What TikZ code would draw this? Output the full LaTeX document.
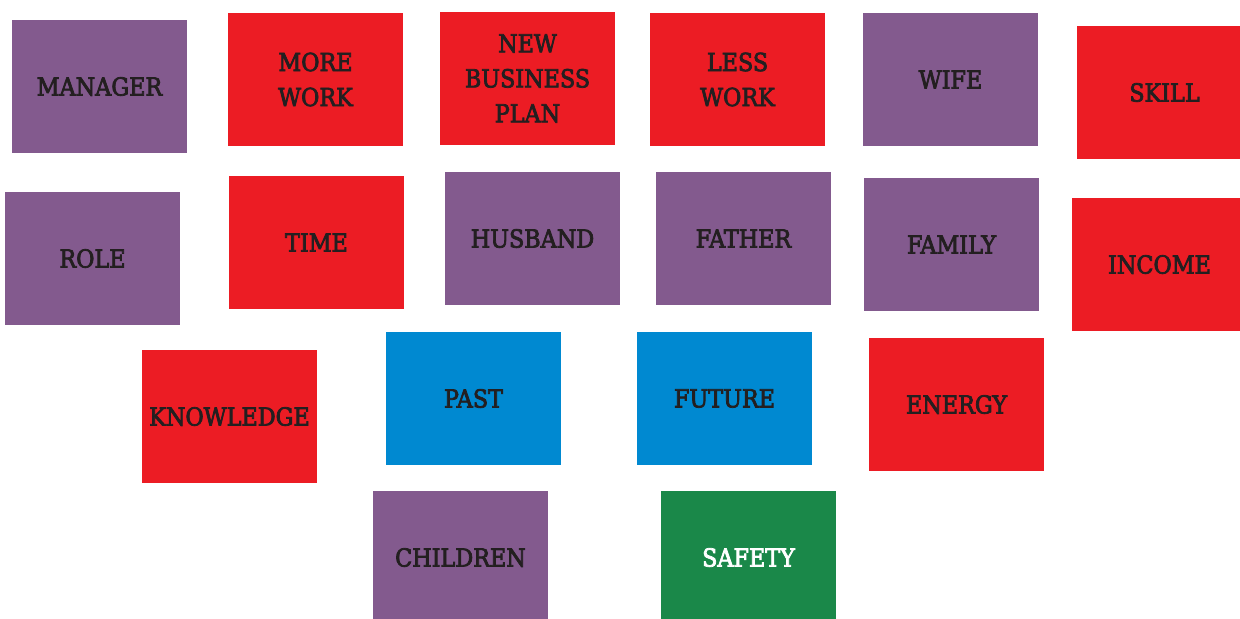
\documentclass[tikz,border=0pt]{standalone}
\usepackage{fontspec}
\setmainfont{DejaVu Serif Condensed}[FakeBold=3]
\usepackage{tikz}
\usetikzlibrary{positioning}

\definecolor{cardpurple}{HTML}{835A8E}
\definecolor{cardred}{HTML}{EC1C24}
\definecolor{cardblue}{HTML}{0089D1}
\definecolor{cardgreen}{HTML}{1A8849}
\definecolor{cardtext}{HTML}{231F20}

\begin{document}
\begin{tikzpicture}[x=0.5pt, y=-0.5pt,
		card/.style={rectangle, minimum width=87.5pt, minimum height=66.5pt, inner sep=0pt, align=center, text=cardtext, font=\fontsize{12.4}{17.5}\selectfont},
		role/.style={card, fill=cardpurple},
		need/.style={card, fill=cardred},
		time/.style={card, fill=cardblue},
		goal/.style={card, fill=cardgreen, text=white}]
		\useasboundingbox (0,0) rectangle (1240,618);
		
		% first row
		\node[role] (manager) at (99.5,86.5) {MANAGER};
		\node[need] (morework) at (315.5,79.5) {MORE\\WORK};
		\node[need] (plan) at (527.5,78.5) {NEW\\BUSINESS\\PLAN};
		\node[need] (lesswork) at (737.5,79.5) {LESS\\WORK};
		\node[role] (wife) at (950.5,79.5) {WIFE};
		\node[need] (skill) at (1164.5,92.5) {SKILL};
		
		% second row
		\node[role] (rolecard) at (92.5,258.5) {ROLE};
		\node[need] (timecard) at (316.5,242.5) {TIME};
		\node[role] (husband) at (532.5,238.5) {HUSBAND};
		\node[role] (father) at (743.5,238.5) {FATHER};
		\node[role] (family) at (951.5,244.5) {FAMILY};
		\node[need] (income) at (1159.5,264.5) {INCOME};
		
		% third row
		\node[need] (knowledge) at (229.5,416.5) {KNOWLEDGE};
		\node[time] (past) at (473.5,398.5) {PAST};
		\node[time] (future) at (724.5,398.5) {FUTURE};
		\node[need] (energy) at (956.5,404.5) {ENERGY};
		
		% last row
		\node[role] (children) at (460.5,557.5) {CHILDREN};
		\node[goal] (safety) at (748.5,557.5) {SAFETY};
	\end{tikzpicture}
\end{document}
